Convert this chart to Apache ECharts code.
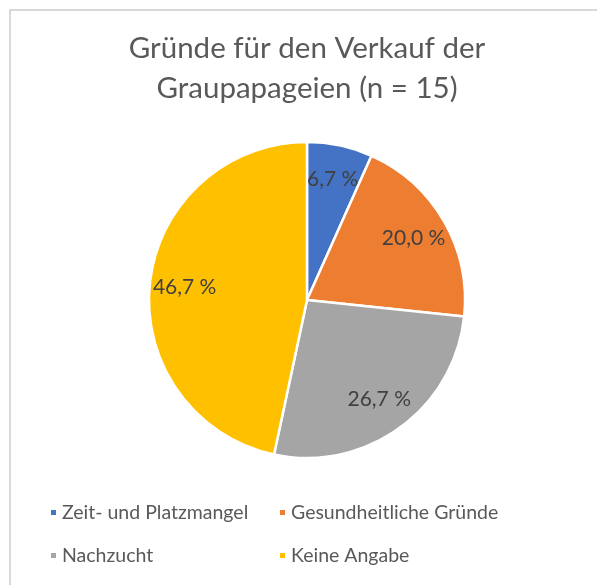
<!DOCTYPE html>
<html><head><meta charset="utf-8">
<script src="https://cdn.jsdelivr.net/npm/echarts@6/dist/echarts.min.js"></script>
<style>html,body{margin:0;padding:0;background:#fff}#c{width:597px;height:585px}</style>
</head><body><div id="c"></div>
<script>
const titleText = 'Gründe für den Verkauf der\nGraupapageien (n = 15)';
const categories = ['Zeit- und Platzmangel', 'Gesundheitliche Gründe', 'Nachzucht', 'Keine Angabe'];
const values = [6.7, 20.0, 26.7, 46.7];
const colors = ['#4472C4', '#ED7D31', '#A5A5A5', '#FFC000'];

const FONT = 'Lato';
const data = categories.map((n, i) => ({ name: n, value: values[i] }));
const fmt = p => p.value.toFixed(1).replace('.', ',') + ' %';

const chart = echarts.init(document.getElementById('c'), null, { renderer: 'canvas' });
chart.setOption({
  animation: false,
  color: colors,
  graphic: [{
    type: 'rect', silent: true, z: -10,
    shape: { x: 10, y: 10, width: 800, height: 800 },
    style: { fill: 'none', stroke: '#D9D9D9', lineWidth: 2 }
  }],
  title: {
    text: titleText, left: 307, textAlign: 'center', top: 28, padding: 0,
    textStyle: { fontFamily: FONT, fontSize: 29.5, fontWeight: 'normal', color: '#595959', lineHeight: 40 }
  },
  legend: {
    data: categories,
    left: 49, top: 499, width: 470, padding: 0,
    itemWidth: 7, itemHeight: 7, itemGap: 16,
    icon: 'rect',
    textStyle: { fontFamily: FONT, fontSize: 19.5, color: '#595959', width: 200, lineHeight: 27 }
  },
  series: [{
    type: 'pie', center: [307, 300], radius: [0, 158],
    startAngle: 90, clockwise: true, silent: true,
    data: data,
    itemStyle: { borderColor: '#fff', borderWidth: 2.5 },
    label: { show: false }, labelLine: { show: false }
  }, {
    type: 'pie', center: [307, 300], radius: [82, 158],
    startAngle: 90, clockwise: true, silent: true,
    data: data, legendHoverLink: false,
    itemStyle: { color: 'rgba(0,0,0,0)', borderWidth: 0 },
    label: { show: true, position: 'inside', formatter: fmt,
      fontFamily: FONT, fontSize: 21, color: '#404040' },
    labelLine: { show: false }
  }]
});
</script></body></html>
